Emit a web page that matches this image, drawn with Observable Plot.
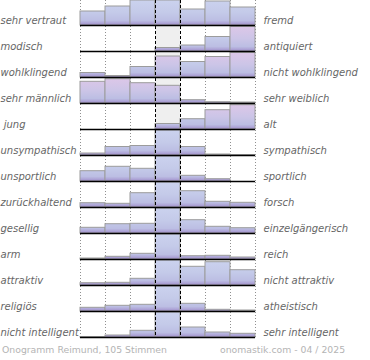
<!DOCTYPE html>
<html>
<head>
<meta charset="utf-8">
<script src="https://cdn.jsdelivr.net/npm/d3@7"></script>
<script src="https://cdn.jsdelivr.net/npm/@observablehq/plot@0.6"></script>
<style>
  html, body { margin: 0; padding: 0; background: #fff; }
  #wrap { position: relative; width: 370px; height: 360px; overflow: hidden; }
  #wrap svg text { white-space: pre; }
  .foot { position: absolute; top: 344px; font-family: "DejaVu Sans", sans-serif; font-size: 9.3px; color: #b4b4b4; white-space: nowrap; }
</style>
</head>
<body>
<div id="wrap"></div>
<script>
// Left / right poles of each semantic scale
const leftLabels = ["sehr vertraut", "modisch", "wohlklingend", "sehr männlich", " jung", "unsympathisch", "unsportlich", "zurückhaltend", "gesellig", "arm", "attraktiv", "religiös", "nicht intelligent"];
const rightLabels = ["fremd", "antiquiert", "nicht wohlklingend", "sehr weiblich", "alt", "sympathisch", "sportlich", "forsch", "einzelgängerisch", "reich", "nicht attraktiv", "atheistisch", "sehr intelligent"];
// Relative vote share per step (7 steps, 25 = full row)
const vertraut      = [14, 19, 25, 25, 16, 24, 18];
const modisch       = [0, 0, 0, 3.5, 6, 14.5, 24.5];
const wohlklingend  = [4.5, 1.5, 10.5, 21, 15.5, 20.5, 24.5];
const maennlich     = [21.7, 24.3, 20.3, 17.7, 3.3, 1.3, 1];
const jung          = [0, 0, 0, 5.5, 10.3, 19.3, 24.3];
const unsympathisch = [2, 8.5, 9.5, 25, 8.5, 1, 0.5];
const unsportlich   = [10.3, 14.7, 12.7, 25, 5.7, 2.3, 0];
const zurueck       = [4.3, 3.7, 14.3, 25, 16.3, 5.7, 4.7];
const gesellig      = [5.7, 9.3, 9.7, 25, 13.3, 6.7, 5.3];
const arm           = [1, 2.7, 5.7, 25, 3.3, 3.7, 2];
const attraktiv     = [2.3, 2.7, 6.7, 25, 18.7, 23.3, 15.3];
const religioes     = [3.7, 5.7, 6.7, 25, 7.7, 1.7, 1];
const intelligent   = [0.5, 2, 6.7, 25, 10, 5, 3.7];
const footerLeft = "Onogramm Reimund, 105 Stimmen";
const footerRight = "onomastik.com - 04 / 2025";

const rows = [vertraut, modisch, wohlklingend, maennlich, jung, unsympathisch, unsportlich, zurueck, gesellig, arm, attraktiv, religioes, intelligent];
const data = rows.flatMap((vals, row) => vals.map((v, col) => ({row, col, v}))).filter(d => d.v > 0);
const isPink = d => d.row >= 1 && d.row <= 4 && d.v >= 17;

const font = "DejaVu Sans, sans-serif";
const plot = Plot.plot({
  width: 370, height: 340,
  marginTop: 0, marginBottom: 2, marginLeft: 80, marginRight: 115,
  style: {fontFamily: font, fontSize: "10px", background: "#fff", overflow: "visible"},
  x: {domain: [0, 7], axis: null},
  y: {domain: [-1, 25], axis: null},
  fy: {domain: d3.range(rows.length), axis: null, padding: 0},
  marks: [
    Plot.rect([0], {x1: 3, x2: 4, y1: 0, y2: 25, fill: "#efefef"}),
    Plot.ruleX([0, 1, 2, 5, 6, 7], {stroke: "#909090", strokeDasharray: "1,2", strokeWidth: 1}),
    Plot.rect(data.filter(d => !isPink(d)), {fy: "row", x1: "col", x2: d => d.col + 1, y1: 0, y2: "v", fill: "url(#gb)", stroke: "#9c9c9c", strokeWidth: 1}),
    Plot.rect(data.filter(isPink), {fy: "row", x1: "col", x2: d => d.col + 1, y1: 0, y2: "v", fill: "url(#gp)", stroke: "#9c9c9c", strokeWidth: 1}),
    Plot.ruleX([3, 4], {stroke: "#000", strokeDasharray: "3,2", strokeWidth: 1}),
    Plot.ruleY([0], {x1: 0, x2: 7, stroke: "#000", strokeWidth: 1.6}),
    Plot.text(leftLabels, {fy: (d, i) => i, x: 0, y: 0, text: d => d, dx: -80, dy: -5, textAnchor: "start", fill: "#666666", fontStyle: "italic", fontSize: 10}),
    Plot.text(rightLabels, {fy: (d, i) => i, x: 7, y: 0, text: d => d, dx: 8, dy: -5, textAnchor: "start", fill: "#666666", fontStyle: "italic", fontSize: 10})
  ]
});

const ys = plot.scale("y");
const yTop = ys.apply(25), yBot = ys.apply(0);
const stops = (top, mid) => `
  <stop offset="0" stop-color="${top}"/>
  <stop offset="0.5" stop-color="${mid}"/>
  <stop offset="0.82" stop-color="#bcbee3"/>
  <stop offset="0.93" stop-color="#ada3d6"/>
  <stop offset="1" stop-color="#9886c4"/>`;
plot.insertAdjacentHTML("afterbegin", `<defs>
  <linearGradient id="gb" gradientUnits="userSpaceOnUse" x1="0" x2="0" y1="${yTop}" y2="${yBot}">${stops("#cbd2ee", "#c4cae9")}</linearGradient>
  <linearGradient id="gp" gradientUnits="userSpaceOnUse" x1="0" x2="0" y1="${yTop}" y2="${yBot}">${stops("#ddc7e8", "#ccc5e7")}</linearGradient>
</defs>`);

const wrap = document.getElementById("wrap");
wrap.appendChild(plot);
const fl = document.createElement("div");
fl.className = "foot"; fl.style.left = "2px"; fl.textContent = footerLeft;
const fr = document.createElement("div");
fr.className = "foot"; fr.style.left = "220px"; fr.textContent = footerRight;
wrap.appendChild(fl); wrap.appendChild(fr);
</script>
</body>
</html>
